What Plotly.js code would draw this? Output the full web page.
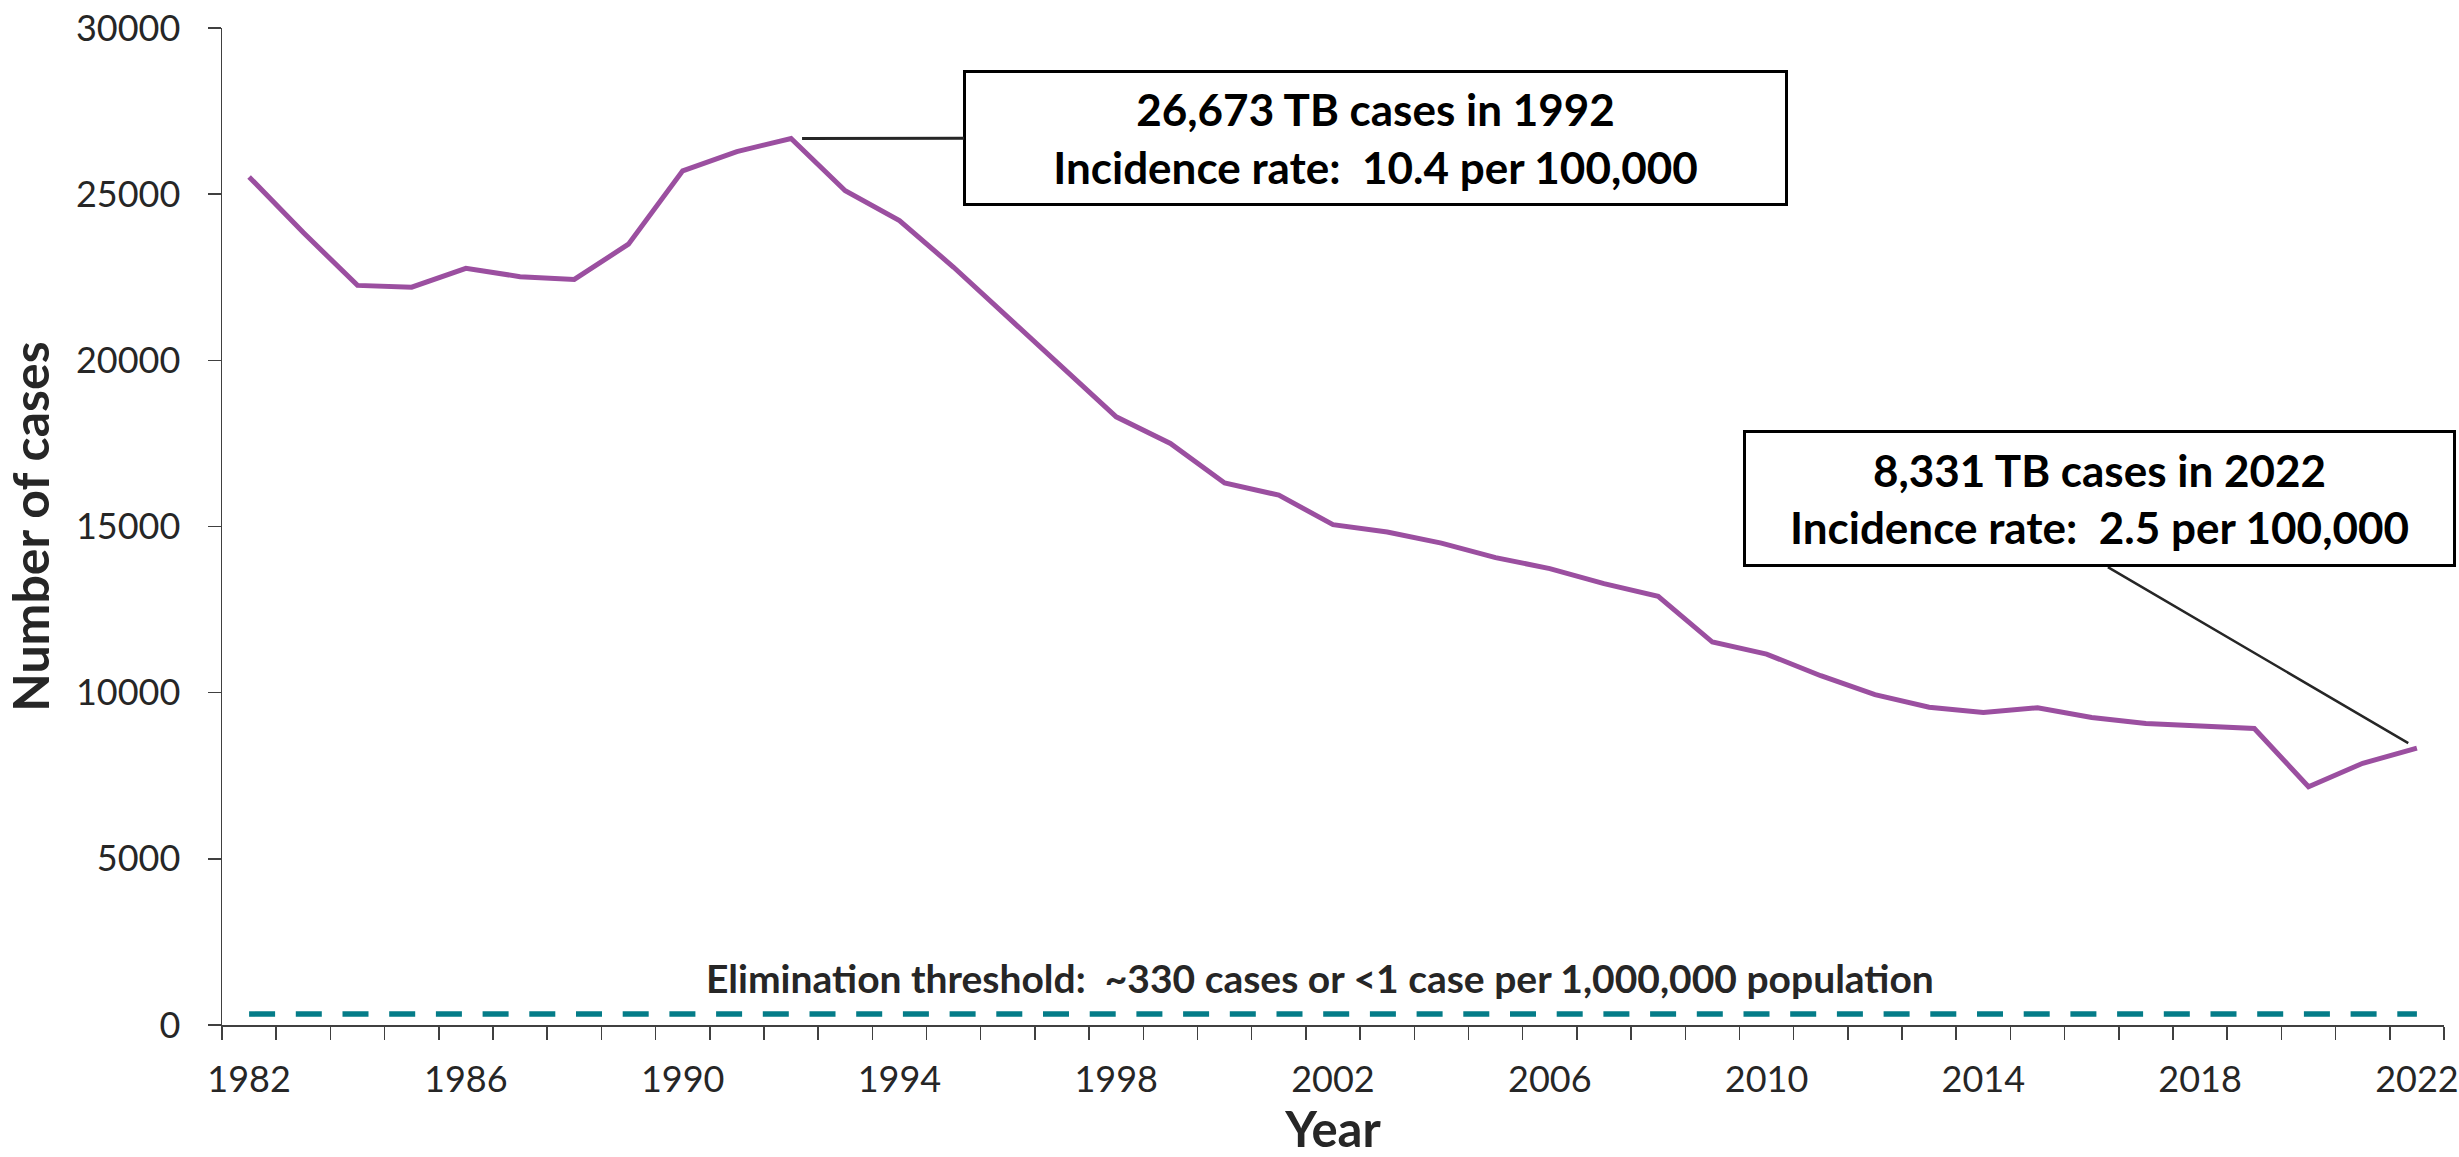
<!DOCTYPE html>
<html>
<head>
<meta charset="utf-8">
<script src="https://cdn.plot.ly/plotly-3.0.1.min.js"></script>
<style>
  html, body { margin: 0; padding: 0; background: #ffffff; }
  #chart { width: 2459px; height: 1157px; }
</style>
</head>
<body>
<div id="chart"></div>
<script>
// ---- Data ----
const years = [1982, 1983, 1984, 1985, 1986, 1987, 1988, 1989, 1990, 1991,
               1992, 1993, 1994, 1995, 1996, 1997, 1998, 1999, 2000, 2001,
               2002, 2003, 2004, 2005, 2006, 2007, 2008, 2009, 2010, 2011,
               2012, 2013, 2014, 2015, 2016, 2017, 2018, 2019, 2020, 2021, 2022];
const cases = [25520, 23846, 22255, 22201, 22768, 22517, 22436, 23495, 25701, 26283,
               26673, 25102, 24206, 22800, 21300, 19800, 18300, 17500, 16309, 15945,
               15055, 14835, 14499, 14063, 13732, 13282, 12900, 11523, 11161, 10510,
               9940, 9561, 9406, 9546, 9252, 9070, 9000, 8920, 7171, 7874, 8331];
const xTickYears = [1982, 1986, 1990, 1994, 1998, 2002, 2006, 2010, 2014, 2018, 2022];
const yTickValues = [0, 5000, 10000, 15000, 20000, 25000, 30000];
const eliminationThreshold = 330;
const calloutYears = [1992, 2022];
const calloutCases = ['26,673', '8,331'];
const calloutRates = ['10.4', '2.5'];

const txt = '#262626';
const axisCol = '#404040';

const i1 = years.indexOf(calloutYears[0]);
const i2 = years.indexOf(calloutYears[1]);
function callout(k) {
  return '<b>' + calloutCases[k] + ' TB cases in ' + calloutYears[k] + '</b><br>' +
         '<b>Incidence rate:\u00a0 ' + calloutRates[k] + ' per 100,000</b>';
}

const traces = [{
  type: 'scatter',
  mode: 'lines',
  x: years,
  y: cases,
  line: { color: '#9B4FA0', width: 5 },
  hoverinfo: 'x+y',
  showlegend: false
}];

const layout = {
  width: 2459,
  height: 1157,
  margin: { l: 222, r: 15, t: 28, b: 132, pad: 0 },
  paper_bgcolor: '#ffffff',
  plot_bgcolor: '#ffffff',
  showlegend: false,
  font: { family: 'Lato, "Open Sans", sans-serif', color: txt },
  xaxis: {
    range: [years[0] - 0.5, years[years.length - 1] + 0.5],
    tickmode: 'array',
    tickvals: xTickYears,
    ticktext: xTickYears.map(String),
    ticks: '',
    showgrid: false,
    zeroline: false,
    showline: true,
    linecolor: axisCol,
    linewidth: 2,
    tickfont: { family: 'Lato', size: 36, color: txt },
    ticklabelstandoff: 22,
    minor: {
      ticks: 'outside',
      tick0: years[0] - 0.5,
      dtick: 1,
      ticklen: 13,
      tickwidth: 1.5,
      tickcolor: axisCol,
      showgrid: false
    },
    title: {
      text: '<b>Year</b>',
      font: { family: 'Lato', size: 49, color: txt },
      standoff: 12
    }
  },
  yaxis: {
    range: [0, 30000],
    tickmode: 'array',
    tickvals: yTickValues,
    ticktext: yTickValues.map(String),
    ticks: 'outside',
    ticklen: 13,
    tickwidth: 1.5,
    tickcolor: axisCol,
    showgrid: false,
    zeroline: false,
    showline: true,
    linecolor: axisCol,
    linewidth: 1.5,
    tickfont: { family: 'Lato', size: 36, color: txt },
    ticklabelstandoff: 20,
    title: {
      text: '<b>Number of cases</b>',
      font: { family: 'Lato', size: 50, color: txt },
      standoff: 14
    }
  },
  shapes: [{
    type: 'line',
    xref: 'x', yref: 'y',
    x0: years[0], x1: years[years.length - 1],
    y0: eliminationThreshold, y1: eliminationThreshold,
    line: { color: '#047C88', width: 5.5, dash: '26px,20.7px' }
  }],
  annotations: [
    {
      x: years[i1], y: cases[i1], xref: 'x', yref: 'y',
      text: callout(0),
      showarrow: true, arrowhead: 0, arrowwidth: 3, arrowcolor: txt,
      ax: 584, ay: -1, standoff: 11,
      bordercolor: '#000000', borderwidth: 3, borderpad: 0,
      bgcolor: '#ffffff',
      width: 819, height: 130,
      align: 'center', valign: 'middle',
      font: { family: 'Lato', size: 44, color: '#000000' }
    },
    {
      x: years[i2], y: cases[i2], xref: 'x', yref: 'y',
      text: '',
      showarrow: true, arrowhead: 0, arrowwidth: 2.5, arrowcolor: txt,
      ax: -309, ay: -181, standoff: 10,
      borderwidth: 0, borderpad: 0
    },
    {
      x: years[i2], y: cases[i2], xref: 'x', yref: 'y',
      text: callout(1),
      showarrow: true, arrowhead: 0, arrowwidth: 0.1, arrowcolor: 'rgba(0,0,0,0)',
      ax: -317, ay: -249.5,
      bordercolor: '#000000', borderwidth: 3, borderpad: 0,
      bgcolor: '#ffffff',
      width: 707, height: 131,
      align: 'center', valign: 'middle',
      font: { family: 'Lato', size: 44, color: '#000000' }
    },
    {
      x: 0.494, xref: 'paper',
      y: eliminationThreshold, yref: 'y',
      yshift: 36,
      text: '<b>Elimination threshold:\u00a0 ~330 cases or &lt;1 case per 1,000,000 population</b>',
      showarrow: false,
      xanchor: 'center', yanchor: 'middle',
      font: { family: 'Lato', size: 39, color: txt }
    }
  ]
};

Plotly.newPlot('chart', traces, layout, { displayModeBar: false, staticPlot: true });
</script>
</body>
</html>
